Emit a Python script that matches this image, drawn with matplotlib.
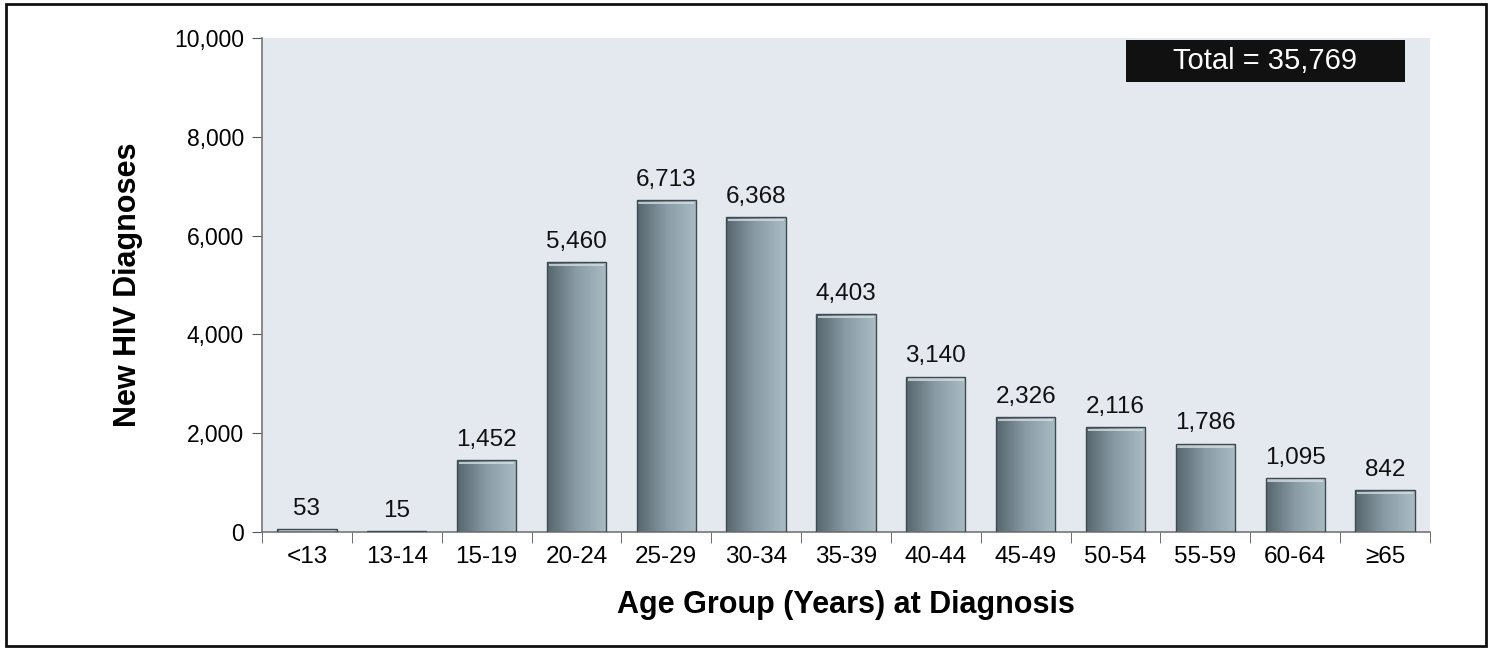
import numpy as np
import matplotlib.pyplot as plt
from matplotlib.patches import Rectangle
from matplotlib.colors import LinearSegmentedColormap

# data
age_groups = ['<13', '13-14', '15-19', '20-24', '25-29', '30-34', '35-39',
              '40-44', '45-49', '50-54', '55-59', '60-64', '\u226565']
diagnoses = [53, 15, 1452, 5460, 6713, 6368, 4403, 3140, 2326, 2116, 1786, 1095, 842]
total_text = 'Total = 35,769'

plt.rcParams['font.family'] = ['Liberation Sans', 'DejaVu Sans']

fig = plt.figure(figsize=(14.92, 6.49), dpi=100)
ax = fig.add_axes([0.1756, 0.1803, 0.7828, 0.7612])
ax.set_facecolor('#e4e8ef')

x = np.arange(len(age_groups))
width = 0.66
bars = ax.bar(x, diagnoses, width=width, color='none', edgecolor='#3e4a50',
              linewidth=1.0, zorder=3)

# left-dark to right-light gradient for each bar
cmap = LinearSegmentedColormap.from_list('bar', ['#56666f', '#8a9ca5', '#a9bcc4'])
grad = np.linspace(0, 1, 256).reshape(1, -1)
for b, v in zip(bars, diagnoses):
    x0 = b.get_x()
    im = ax.imshow(grad, cmap=cmap, aspect='auto', zorder=2,
                   extent=[x0, x0 + width, 0, v], interpolation='bicubic')
    im.set_clip_path(b)
    # light bevel at the top
    cap = min(v, 80)
    ax.add_patch(Rectangle((x0 + 0.02, v - cap), width - 0.04, cap * 0.6,
                           facecolor='#d3dde2', edgecolor='none', zorder=2.5, alpha=0.8))
    ax.text(b.get_x() + width / 2, v + 190, f'{v:,}', ha='center', va='bottom',
            fontsize=17.5, color='#111111', zorder=4)

ax.set_xlim(-0.5, len(age_groups) - 0.5)
ax.set_ylim(0, 10000)
ax.set_yticks(np.arange(0, 10001, 2000))
ax.set_yticklabels([f'{t:,}' for t in range(0, 10001, 2000)])
ax.set_xticks(x)
ax.set_xticklabels(age_groups)
ax.set_xticks(np.arange(-0.5, len(age_groups), 1), minor=True)
ax.tick_params(axis='x', which='major', length=0, labelsize=17.5, pad=10)
ax.tick_params(axis='x', which='minor', length=8, color='#555555', direction='out')
ax.tick_params(axis='y', labelsize=16.5, length=7, color='#555555', pad=6)

for s in ['top', 'right']:
    ax.spines[s].set_visible(False)
for s in ['left', 'bottom']:
    ax.spines[s].set_color('#777777')
    ax.spines[s].set_linewidth(1.2)

ax.set_ylabel('New HIV Diagnoses', fontsize=22, fontweight='bold', labelpad=22)
ax.set_xlabel('Age Group (Years) at Diagnosis', fontsize=22, fontweight='bold', labelpad=16)

# total box
ax.add_patch(Rectangle((0.7397, 0.911), 0.2389, 0.085, transform=ax.transAxes,
                       facecolor='#111111', edgecolor='none', zorder=5))
ax.text(0.7397 + 0.2389 / 2, 0.9535, total_text, transform=ax.transAxes,
        ha='center', va='center', fontsize=21, color='white', zorder=6)

# outer frame
fig.add_artist(Rectangle((0.004, 0.004), 0.992, 0.99, transform=fig.transFigure,
                         fill=False, edgecolor='#111111', linewidth=2))

fig.savefig('out.png', dpi=100)
